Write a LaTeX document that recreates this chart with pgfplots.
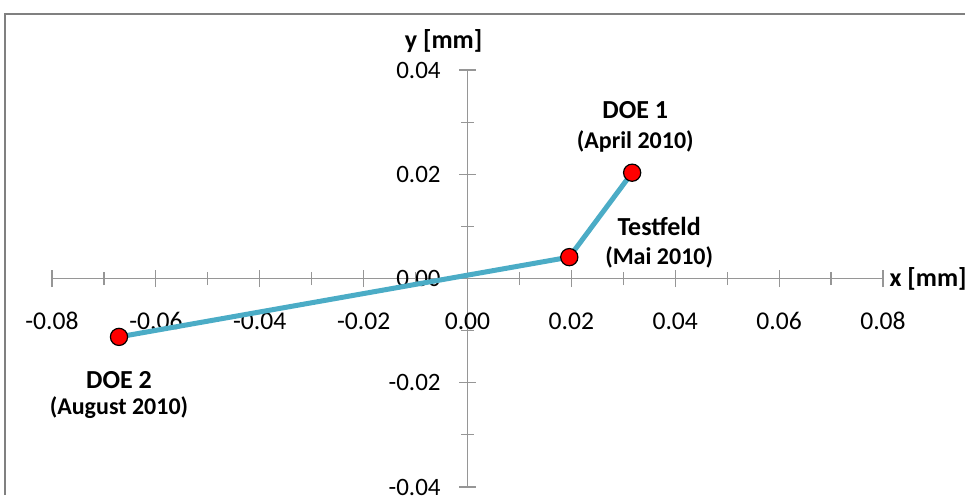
\documentclass[border=0pt]{standalone}
\usepackage{fontspec}
\setmainfont{Carlito}
\usepackage{pgfplots}
\pgfplotsset{compat=1.18}
\definecolor{linec}{RGB}{75,172,198}
\definecolor{axc}{RGB}{150,150,150}
\definecolor{framec}{RGB}{128,128,128}
\begin{document}
\begin{tikzpicture}
\useasboundingbox (0,0) rectangle (482.5pt,247.5pt);
\draw[framec, line width=1.2pt] (2.5pt,0) -- (2.5pt,240.5pt) -- (482.5pt,240.5pt);
\begin{axis}[
  at={(26pt,4pt)}, anchor=south west,
  scale only axis, width=415.5pt, height=208.5pt,
  axis lines=middle,
  axis line style={axc, line width=0.6pt, -},
  xmin=-0.08, xmax=0.08, ymin=-0.04, ymax=0.04,
  scaled ticks=false,
  xtick={-0.08,-0.06,-0.04,-0.02,0,0.02,0.04,0.06,0.08},
  xticklabels={-0.08,-0.06,-0.04,-0.02,0.00,0.02,0.04,0.06,0.08},
  minor xtick={-0.07,-0.05,-0.03,-0.01,0.01,0.03,0.05,0.07},
  ytick={-0.04,-0.02,0,0.02,0.04},
  yticklabels={-0.04,-0.02,0.00,0.02,0.04},
  minor ytick={-0.03,-0.01,0.01,0.03},
  tick align=center,
  major tick length=8.5pt, minor tick length=6.5pt,
  tick style={axc, line width=0.6pt},
  hide obscured x ticks=false, hide obscured y ticks=false,
  xticklabel style={anchor=center, inner sep=0pt, yshift=-17pt, font=\fontsize{12.8}{14}\selectfont},
  yticklabel style={anchor=east, inner sep=0pt, xshift=-9pt, font=\fontsize{12.5}{14}\selectfont},
  clip=false,
]
\addplot[linec, line width=2.5pt, mark=*, mark size=4.3pt,
  mark options={fill=red, draw=black, line width=0.6pt}]
  coordinates {(0.0317,0.0203) (0.0196,0.0041) (-0.0671,-0.0112)};
\node[font=\bfseries\fontsize{13}{15}\selectfont] at (axis cs:0.0323,0.0324) {DOE 1};
\node[font=\bfseries\fontsize{12}{14}\selectfont] at (axis cs:0.0323,0.0263) {(April 2010)};
\node[font=\bfseries\fontsize{13}{15}\selectfont] at (axis cs:0.0369,0.0100) {Testfeld};
\node[font=\bfseries\fontsize{12}{14}\selectfont] at (axis cs:0.0369,0.0040) {(Mai 2010)};
\node[font=\bfseries\fontsize{13}{15}\selectfont] at (axis cs:-0.0671,-0.0194) {DOE 2};
\node[font=\bfseries\fontsize{12}{14}\selectfont] at (axis cs:-0.0671,-0.0248) {(August 2010)};
\node[font=\bfseries\fontsize{13}{15}\selectfont] at (axis cs:-0.0046,0.0455) {y [mm]};
\node[font=\bfseries\fontsize{13}{15}\selectfont, anchor=west, inner sep=0pt] at (axis cs:0.0812,0) {x [mm]};
\end{axis}
\end{tikzpicture}
\end{document}
